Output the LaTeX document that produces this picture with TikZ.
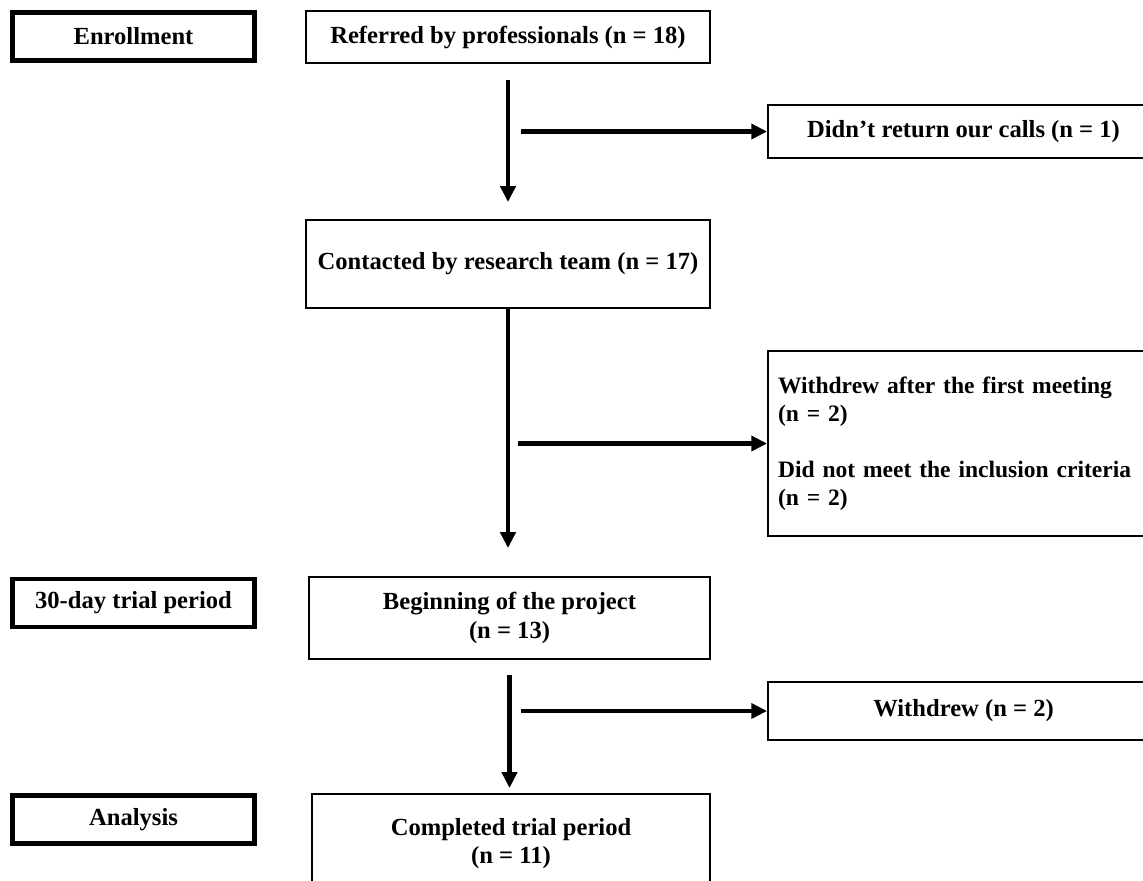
\documentclass[tikz,border=0pt]{standalone}
\usepackage{fontspec}
\setmainfont{Liberation Serif}
\usetikzlibrary{arrows.meta}

\tikzset{
  stage/.style={draw, line width=2.8pt, minimum width=4.84cm, minimum height=0.96cm,
    font=\bfseries\fontsize{14}{16}\selectfont},
  flowbox/.style={draw, line width=1.1pt, align=center,
    font=\bfseries\fontsize{14}{16}\selectfont},
  flowarrow/.style={line width=2.3pt, -{Triangle[width=8.5pt,length=9pt]}},
}

\begin{document}
\begin{tikzpicture}[x=0.02cm, y=-0.02cm]
    % Marc de la figura (en píxels)
    \useasboundingbox (0,0) rectangle (1143,880);
    \clip (0,0) rectangle (1143,880);

    % Etapes (columna esquerra)
    \node[stage] (enroll) at (133.5,36.5) {Enrollment};
    \node[stage] (trial) at (133.5,603) {30-day trial period};
    \node[stage] (analysis) at (133.5,819.5) {Analysis};

    % Flux principal
    \node[flowbox, minimum width=8.08cm, minimum height=1.04cm] (referred) at (508,37)
        {Referred by professionals (n = 18)};
    \node[flowbox, minimum width=8.08cm, minimum height=1.76cm] (contacted) at (508,264)
        {Contacted by research team (n = 17)};
    \node[flowbox, minimum width=8.02cm, minimum height=1.64cm] (beginning) at (509.5,618)
        {Beginning of the project\\(n = 13)};
    \node[flowbox, minimum width=7.96cm, minimum height=2.0cm] (completed) at (511,844)
        {Completed trial period\\(n = 11)};

    % Sortides (columna dreta, tallades pel marge)
    \node[flowbox, minimum width=7.82cm, minimum height=1.06cm] (noreturn) at (963.5,131.5)
        {Didn't return our calls (n = 1)};
    \node[flowbox, minimum width=7.82cm, minimum height=3.7cm, text width=7.42cm, align=left,
        font=\bfseries\fontsize{13.4}{16}\selectfont]
        (excluded) at (963.5,443.5)
        {Withdrew after the first meeting\\(n = 2)\\[16pt]Did not meet the inclusion criteria\\(n = 2)};
    \node[flowbox, minimum width=7.82cm, minimum height=1.16cm] (withdrew) at (963.5,711)
        {Withdrew (n = 2)};

    % Fletxes verticals
    \draw[flowarrow, shorten <=0.32cm, shorten >=0.34cm]
        (referred.south) -- (referred.south |- contacted.north);
    \draw[flowarrow, shorten >=0.56cm]
        (contacted.south) -- (contacted.south |- beginning.north);
    \draw[flowarrow, shorten <=0.3cm, shorten >=0.1cm]
        (beginning.south) -- (beginning.south |- completed.north);

    % Fletxes laterals
    \coordinate (split1) at (521,131.5);
    \coordinate (split2) at (518,443.5);
    \coordinate (split3) at (521,711);
    \draw[flowarrow] (split1) -- (noreturn.west);
    \draw[flowarrow] (split2) -- (excluded.west);
    \draw[flowarrow] (split3) -- (withdrew.west);
\end{tikzpicture}
\end{document}
